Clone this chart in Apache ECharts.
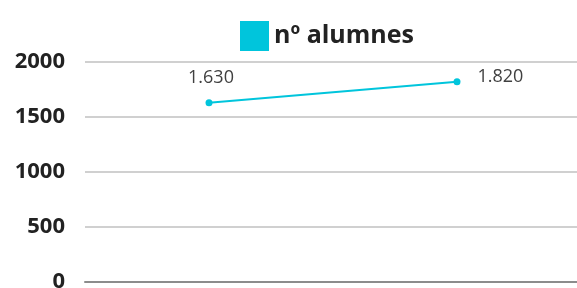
<!DOCTYPE html>
<html>
<head>
<meta charset="utf-8">
<script src="https://cdn.jsdelivr.net/npm/echarts@6/dist/echarts.min.js"></script>
<style>
  html, body { margin: 0; padding: 0; background: #fff; }
  #chart { width: 577px; height: 288px; }
</style>
</head>
<body>
<div id="chart"></div>
<script>
// chart data
const categories = ['2022', '2023']
const alumnes = [1630, 1820]
const seriesName = 'nº alumnes'
const labelTexts = ['1.630', '1.820']

const lineColor = '#00c5dc'

const chart = echarts.init(document.getElementById('chart'))

chart.setOption({
  animation: false,
  textStyle: { fontFamily: 'Open Sans' },
  legend: {
    data: [seriesName],
    top: 16,
    left: 235,
    itemWidth: 29,
    itemHeight: 30,
    itemGap: 8,
    icon: 'rect',
    textStyle: {
      fontSize: 25,
      fontWeight: 'bold',
      color: '#222',
      fontFamily: 'Open Sans'
    }
  },
  grid: {
    left: 85,
    right: -4,
    top: 62,
    bottom: 6,
    outerBoundsMode: 'none'
  },
  xAxis: {
    type: 'category',
    data: categories,
    boundaryGap: true,
    axisTick: { show: false },
    axisLabel: { show: false },
    axisLine: { lineStyle: { color: '#8c8c8c', width: 2 } }
  },
  yAxis: {
    type: 'value',
    min: 0,
    max: 2000,
    interval: 500,
    axisLabel: {
      fontSize: 22,
      fontWeight: 'bold',
      color: '#222',
      margin: 20,
      formatter: (v) => String(v)
    },
    splitLine: { lineStyle: { color: '#d0d0d0', width: 2 } }
  },
  series: [
    {
      name: seriesName,
      type: 'line',
      data: alumnes.map((v, i) => ({
        value: v,
        label: i === 0
          ? { position: 'top', offset: [2, -7] }
          : { position: 'right', offset: [12, -5] }
      })),
      symbol: 'circle',
      symbolSize: 7,
      itemStyle: { color: lineColor },
      lineStyle: { color: lineColor, width: 2 },
      label: {
        show: true,
        fontSize: 18,
        color: '#404040',
        formatter: (p) => labelTexts[p.dataIndex]
      }
    }
  ]
})
</script>
</body>
</html>
